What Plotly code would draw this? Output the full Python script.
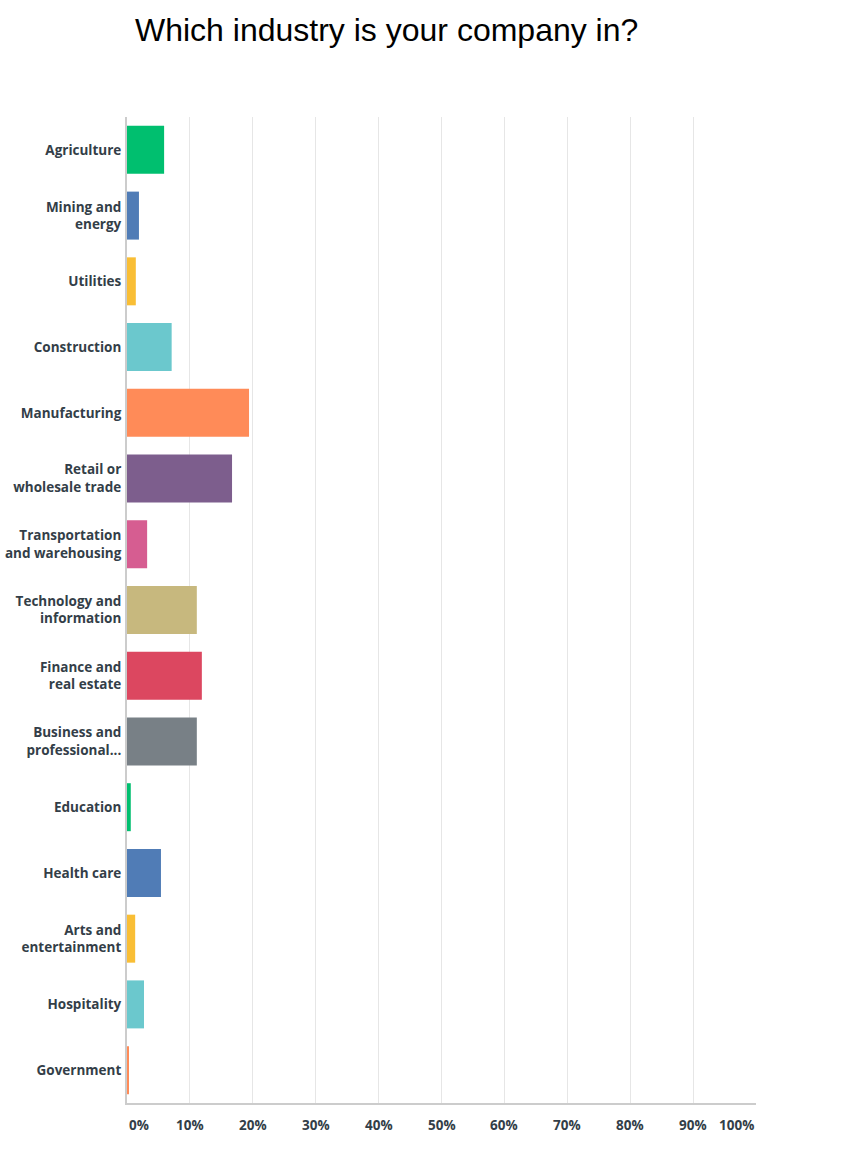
import plotly.graph_objects as go

categories = [
    "Agriculture", "Mining and<br>energy", "Utilities", "Construction", "Manufacturing",
    "Retail or<br>wholesale trade", "Transportation<br>and warehousing",
    "Technology and<br>information", "Finance and<br>real estate",
    "Business and<br>professional...", "Education", "Health care",
    "Arts and<br>entertainment", "Hospitality", "Government",
]
values = [5.9, 1.9, 1.4, 7.1, 19.4, 16.7, 3.2, 11.1, 11.9, 11.1, 0.6, 5.4, 1.3, 2.7, 0.2]
colors = [
    "#00BF6F", "#507CB6", "#F9BE35", "#6BC8CD", "#FF8B58", "#7D5E8D", "#D65D91",
    "#C7B87E", "#DC4760", "#788086", "#00BF6F", "#507CB6", "#F9BE35", "#6BC8CD", "#FF8B58",
]
tick_vals = [0, 10, 20, 30, 40, 50, 60, 70, 80, 90, 100]
tick_text = ["0%", "10%", "20%", "30%", "40%", "50%", "60%", "70%", "80%", "90%", "100%"]

label_color = "#333E48"
label_font = dict(family="Open Sans", size=13.5, color=label_color, weight="bold")

fig = go.Figure(go.Bar(
    x=values, y=categories, orientation="h",
    marker=dict(color=colors, line=dict(width=0)),
    hoverinfo="skip",
))

annotations = []
for v, t in zip(tick_vals, tick_text):
    anchor = "left" if v == 0 else ("right" if v == 100 else "center")
    annotations.append(dict(
        x=v, y=-0.022, xref="x", yref="paper", text=t, showarrow=False,
        xanchor=anchor, yanchor="middle", font=label_font,
    ))

fig.update_layout(
    width=868, height=1160,
    margin=dict(l=127, r=112, t=117, b=57, autoexpand=False),
    paper_bgcolor="white", plot_bgcolor="white",
    title=dict(
        text="Which industry is your company in?",
        font=dict(family="Liberation Sans", size=32, color="#000000"),
        x=135 / 868, xanchor="left", xref="container",
        y=1 - 30 / 1160, yanchor="middle", yref="container",
    ),
    bargap=0.27,
    showlegend=False,
    annotations=annotations,
)
fig.update_xaxes(
    range=[0, 100], tickvals=tick_vals, showticklabels=False,
    showgrid=True, gridcolor="#E6E6E6", gridwidth=1,
    showline=True, linecolor="#CCCCCC", linewidth=2, mirror=False,
    zeroline=False, fixedrange=True, automargin=False,
)
fig.update_yaxes(
    autorange="reversed", tickfont=label_font,
    showline=True, linecolor="#CCCCCC", linewidth=2,
    showgrid=False, zeroline=False, ticks="", ticklabelstandoff=1,
    fixedrange=True, automargin=False,
)

fig.write_html(
    "out.html",
    config={"displayModeBar": False},
    post_script="document.body.style.margin='0';document.body.style.padding='0';",
)
